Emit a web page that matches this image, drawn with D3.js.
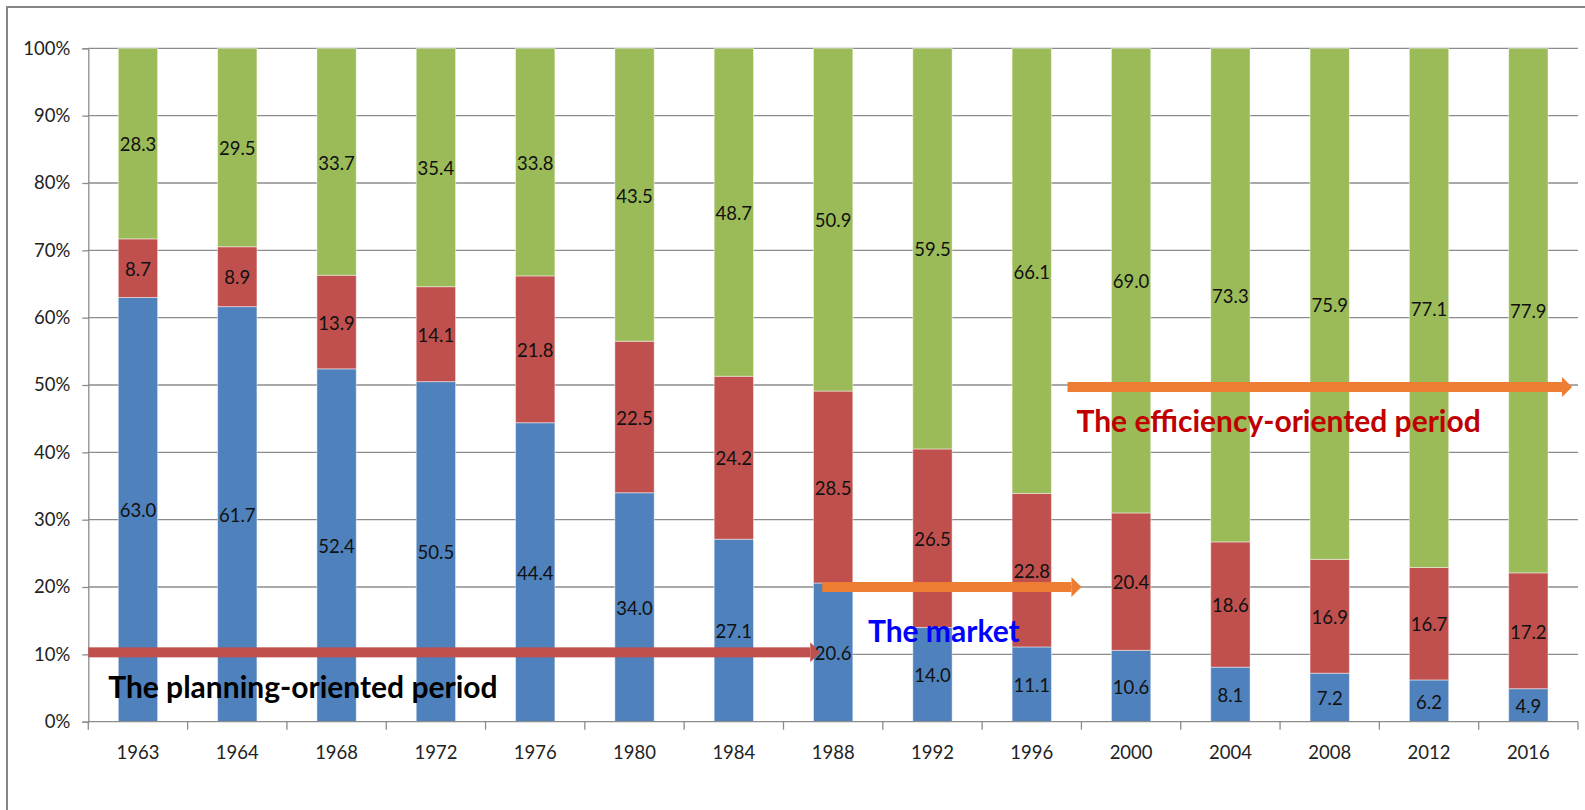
<!DOCTYPE html>
<html>
<head>
<meta charset="utf-8">
<script src="https://cdn.jsdelivr.net/npm/d3@7"></script>
<style>
  html, body { margin: 0; padding: 0; background: #fff; }
  svg { display: block; }
</style>
</head>
<body>
<svg id="chart" width="1585" height="810"></svg>
<script>
// ---- data ----
const categories = ["1963","1964","1968","1972","1976","1980","1984","1988","1992","1996","2000","2004","2008","2012","2016"];
const blueShare  = [63.0, 61.7, 52.4, 50.5, 44.4, 34.0, 27.1, 20.6, 14.0, 11.1, 10.6, 8.1, 7.2, 6.2, 4.9];
const redShare   = [8.7, 8.9, 13.9, 14.1, 21.8, 22.5, 24.2, 28.5, 26.5, 22.8, 20.4, 18.6, 16.9, 16.7, 17.2];
const greenShare = [28.3, 29.5, 33.7, 35.4, 33.8, 43.5, 48.7, 50.9, 59.5, 66.1, 69.0, 73.3, 75.9, 77.1, 77.9];
const yTicks = [0, 10, 20, 30, 40, 50, 60, 70, 80, 90, 100];

// annotations: x in category-index units, y in percent
const arrows = [
  { x0: 0.0,  x1: 7.37, y: 10.3, color: "#C0504D" },
  { x0: 7.39, x1: 10.0, y: 20.0, color: "#ED7D31" },
  { x0: 9.86, x1: 14.94, y: 49.7, color: "#ED7D31" }
];
const notes = [
  { text: "The planning-oriented period", x: 0.2,  y: 3.5,  color: "#000000" },
  { text: "The market",                   x: 7.85, y: 11.8, color: "#0000FF" },
  { text: "The efficiency-oriented period", x: 9.95, y: 43.0, color: "#C00000" }
];

// ---- layout ----
const svg = d3.select("#chart");
const plotLeft = 88.3, plotRight = 1578, plotTop = 48.3, plotBottom = 721.7;
const FONT = "Lato, 'Open Sans', sans-serif";

// outer border
svg.append("rect").attr("x", 7).attr("y", 7).attr("width", 1700).attr("height", 1000)
  .attr("fill", "none").attr("stroke", "#868686").attr("stroke-width", 2);

const x = d3.scaleBand().domain(categories).range([plotLeft, plotRight])
  .paddingInner(0.604).paddingOuter(0.302);
const xi = d3.scaleLinear().domain([0, categories.length]).range([plotLeft, plotRight]);
const y = d3.scaleLinear().domain([0, 100]).range([plotBottom, plotTop]);

// gridlines
svg.append("g").selectAll("line").data(yTicks.filter(d => d > 0)).join("line")
  .attr("x1", plotLeft).attr("x2", plotRight)
  .attr("y1", d => y(d)).attr("y2", d => y(d))
  .attr("stroke", "#8c8c8c").attr("stroke-width", 1.3);

// stacked data (normalized to 100%)
const rows = categories.map((c, i) => ({ cat: c, blue: blueShare[i], red: redShare[i], green: greenShare[i] }));
const keys = ["blue", "red", "green"];
const colors = { blue: "#4F81BD", red: "#C0504D", green: "#9BBB59" };
const stack = d3.stack().keys(keys).offset(d3.stackOffsetExpand);
const series = stack(rows);

const gBars = svg.append("g");
series.forEach(s => {
  gBars.append("g").selectAll("rect").data(s).join("rect")
    .attr("x", d => x(d.data.cat))
    .attr("width", x.bandwidth())
    .attr("y", d => y(d[1] * 100))
    .attr("height", d => y(d[0] * 100) - y(d[1] * 100))
    .attr("fill", colors[s.key])
    .attr("stroke", "rgba(255,255,255,0.45)").attr("stroke-width", 1);
});

// y axis
const yAxis = svg.append("g").attr("transform", `translate(${plotLeft},0)`)
  .call(d3.axisLeft(y).tickValues(yTicks).tickFormat(d => d + "%").tickSize(6).tickPadding(12));
yAxis.select(".domain").attr("stroke", "#8c8c8c").attr("stroke-width", 1.3);
yAxis.selectAll(".tick line").attr("stroke", "#8c8c8c").attr("stroke-width", 1.3);
yAxis.selectAll("text").attr("font-family", FONT).attr("font-size", 18.5).attr("fill", "#222");

// x axis
const xAxis = svg.append("g").attr("transform", `translate(0,${plotBottom})`)
  .call(d3.axisBottom(x).tickSize(0).tickPadding(24));
xAxis.select(".domain").remove();
xAxis.selectAll("text").attr("font-family", FONT).attr("font-size", 18.5).attr("fill", "#222");
svg.append("line").attr("x1", plotLeft).attr("x2", plotRight).attr("y1", plotBottom).attr("y2", plotBottom)
  .attr("stroke", "#8c8c8c").attr("stroke-width", 1.3);
svg.append("g").selectAll("line").data(d3.range(categories.length + 1)).join("line")
  .attr("x1", d => xi(d)).attr("x2", d => xi(d))
  .attr("y1", plotBottom).attr("y2", plotBottom + 8)
  .attr("stroke", "#8c8c8c").attr("stroke-width", 1.3);

// arrows
const gArr = svg.append("g");
arrows.forEach(a => {
  const xs = xi(a.x0), xe = xi(a.x1), yc = y(a.y);
  const th = 10, hh = 10, hl = 10;
  gArr.append("rect").attr("x", xs).attr("y", yc - th / 2)
    .attr("width", xe - hl - xs).attr("height", th).attr("fill", a.color);
  gArr.append("path")
    .attr("d", `M${xe - hl},${yc - hh}L${xe},${yc}L${xe - hl},${yc + hh}Z`)
    .attr("fill", a.color);
});

// data labels
const gLab = svg.append("g").attr("font-family", FONT).attr("font-size", 18.5).attr("fill", "#111")
  .attr("text-anchor", "middle");
series.forEach(s => {
  gLab.append("g").selectAll("text").data(s).join("text")
    .attr("x", d => x(d.data.cat) + x.bandwidth() / 2)
    .attr("y", d => (y(d[0] * 100) + y(d[1] * 100)) / 2)
    .attr("dy", "0.42em")
    .text(d => d3.format(".1f")(d.data[s.key]));
});

// annotation text
svg.append("g").selectAll("text").data(notes).join("text")
  .attr("x", d => xi(d.x)).attr("y", d => y(d.y))
  .attr("font-family", FONT).attr("font-weight", "bold").attr("font-size", 30)
  .attr("fill", d => d.color)
  .text(d => d.text);
</script>
</body>
</html>
